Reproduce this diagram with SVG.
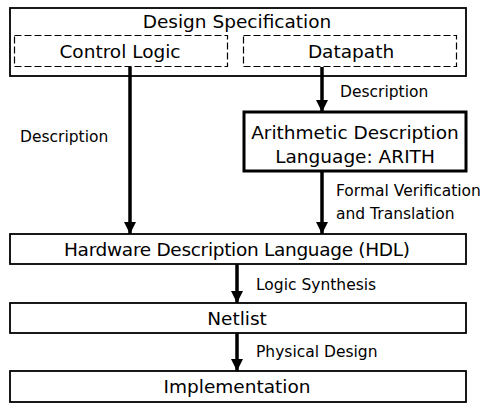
<svg xmlns="http://www.w3.org/2000/svg" width="487" height="403" viewBox="0 0 487 403">
  <style>
    .box { fill: #fff; stroke: #000; stroke-width: 1.8; }
    .thick { fill: #fff; stroke: #000; stroke-width: 3; }
    .dash { fill: none; stroke: #000; stroke-width: 1.2; stroke-dasharray: 7 3; }
    .big { font-family: "DejaVu Sans", Verdana, sans-serif; font-size: 18.5px; fill: #000; text-anchor: middle; }
    .small { font-family: "DejaVu Sans", Verdana, sans-serif; font-size: 15.5px; fill: #000; }
    .edge { stroke: #000; stroke-width: 3.5; fill: none; }
  </style>
  <defs>
    <marker id="head" viewBox="0 0 12 12" refX="12" refY="6" markerWidth="12" markerHeight="12" markerUnits="userSpaceOnUse" orient="auto">
      <path d="M0,0 L12,6 L0,12 Z" fill="#000"/>
    </marker>
  </defs>
  <rect width="487" height="403" fill="#fff"/>

  <g id="spec">
    <rect class="box" x="10" y="8" width="456" height="68"/>
    <text class="big" x="237" y="28">Design Specification</text>
  </g>
  <g id="control">
    <rect class="dash" x="14.5" y="35.5" width="213" height="31"/>
    <text class="big" x="120" y="58">Control Logic</text>
  </g>
  <g id="datapath">
    <rect class="dash" x="243.5" y="35.5" width="213" height="31"/>
    <text class="big" x="351" y="58">Datapath</text>
  </g>
  <g id="arith">
    <rect class="thick" x="244" y="112" width="222" height="59"/>
    <text class="big" x="355" y="139">Arithmetic Description</text>
    <text class="big" x="355" y="163">Language: ARITH</text>
  </g>
  <g id="hdl">
    <rect class="box" x="10" y="234" width="456" height="30"/>
    <text class="big" x="237" y="256" textLength="346">Hardware Description Language (HDL)</text>
  </g>
  <g id="netlist">
    <rect class="box" x="10" y="303" width="456" height="30"/>
    <text class="big" x="237" y="325">Netlist</text>
  </g>
  <g id="implementation">
    <rect class="box" x="10" y="371" width="456" height="31"/>
    <text class="big" x="237" y="393">Implementation</text>
  </g>

  <g id="connectors">
    <line class="edge" x1="130" y1="67" x2="130" y2="234" marker-end="url(#head)"/>
    <line class="edge" x1="322" y1="67" x2="322" y2="112" marker-end="url(#head)"/>
    <line class="edge" x1="322" y1="171" x2="322" y2="234" marker-end="url(#head)"/>
    <line class="edge" x1="237" y1="264" x2="237" y2="303" marker-end="url(#head)"/>
    <line class="edge" x1="237" y1="333" x2="237" y2="371" marker-end="url(#head)"/>
    <text class="small" x="20" y="142">Description</text>
    <text class="small" x="340" y="97">Description</text>
    <text class="small" x="336" y="196">Formal Verification</text>
    <text class="small" x="336" y="219">and Translation</text>
    <text class="small" x="256" y="290">Logic Synthesis</text>
    <text class="small" x="256" y="357">Physical Design</text>
  </g>
</svg>
